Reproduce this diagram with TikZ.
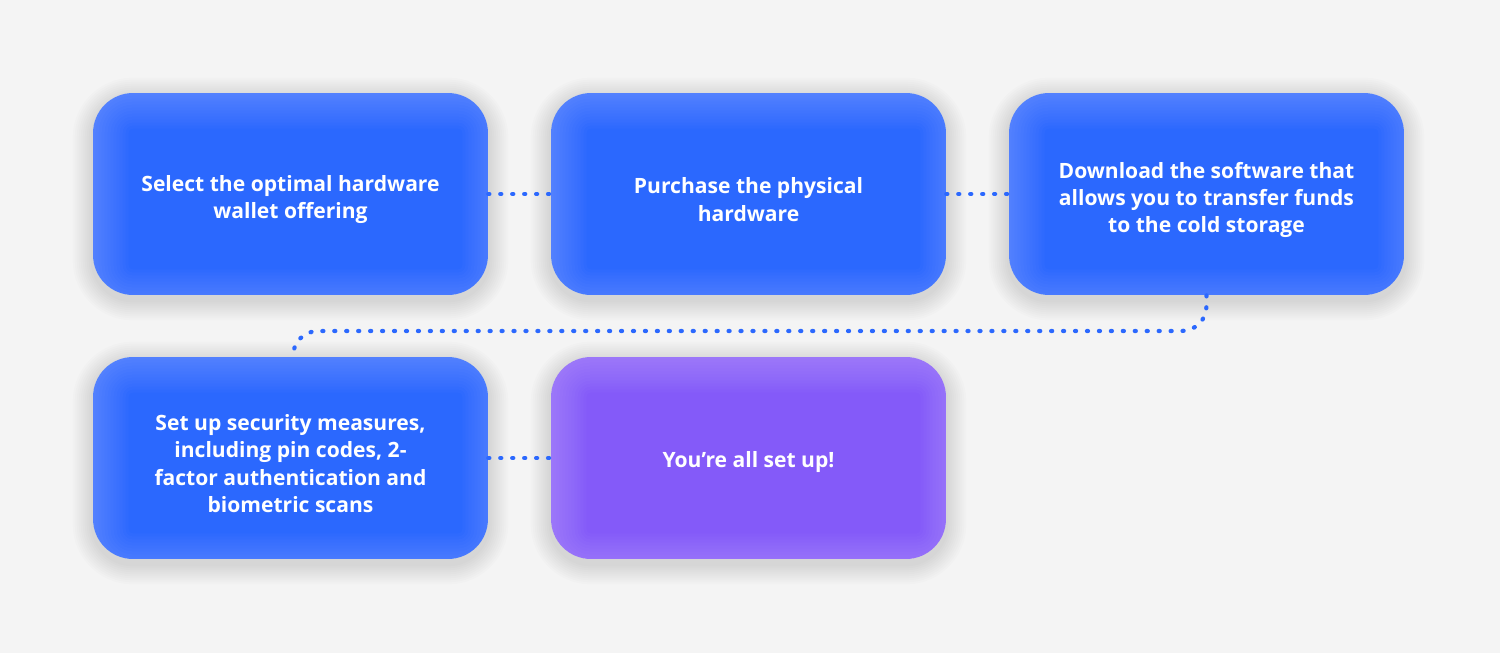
\documentclass[tikz,border=0pt]{standalone}
\usepackage{fontspec}
\setmainfont{Open Sans}
\usetikzlibrary{backgrounds}
\definecolor{bg}{HTML}{F4F4F4}
\definecolor{stepblue}{HTML}{2B68FE}
\definecolor{steppurple}{HTML}{845AF9}
\definecolor{dotblue}{HTML}{2B68FE}
\newcommand\myliftA{\rule{0pt}{15.5pt}}
\newcommand\myliftB{\rule{0pt}{14pt}}
\tikzset{
  px/.style={x=0.02cm,y=-0.02cm},
  stepbox/.style={rectangle, rounded corners=0.8cm, minimum width=7.9cm, minimum height=4.04cm,
    fill=stepblue, text=white, align=center, font=\bfseries\fontsize{12}{15.4}\selectfont},
  finalbox/.style={stepbox, fill=steppurple},
  softshadow/.style={fill=black, opacity=0.012},
  glow/.style={draw=white, opacity=0.02},
  link/.style={draw=dotblue, line width=2.4pt, line cap=round, dash pattern=on 0.6pt off 6.2pt, rounded corners=0.5cm}
}
\begin{document}
\begin{tikzpicture}[px]
\node[stepbox] (s1) at (290.5,194) {\myliftA Select the optimal hardware\\wallet offering};
\node[stepbox] (s2) at (748.5,194) {\myliftA Purchase the physical\\hardware};
\node[stepbox] (s3) at (1206.5,194) {\myliftA Download the software that\\allows you to transfer funds\\to the cold storage};
\node[stepbox] (s4) at (290.5,458) {\myliftA Set up security measures,\\including pin codes, 2-\\factor authentication and\\biometric scans};
\node[finalbox] (s5) at (748.5,458) {\myliftB You're all set up!};
\begin{scope}[on background layer]
\fill[bg] (0,0) rectangle (1500,653);
\foreach \n in {s1,s2,s3,s4,s5}{
  \foreach \k in {1,...,10}{
    \fill[softshadow, rounded corners=0.8cm+\k*0.04cm]
      ([shift={(-\k*2,-\k*2+5)}]\n.north west) rectangle ([shift={(\k*2,\k*2+5)}]\n.south east);
  }
}
\end{scope}
\foreach \n in {s1,s2,s3,s4,s5}{
  \begin{scope}
    \clip[rounded corners=0.8cm] (\n.north west) rectangle (\n.south east);
    \foreach \k in {1,...,12}{
      \draw[glow, line width=\k*0.12cm, rounded corners=0.8cm]
        (\n.north west) rectangle ([shift={(10,10)}]\n.south east);
    }
  \end{scope}
}
\useasboundingbox (0,0) rectangle (1500,653);
\coordinate (c1) at (1206.5,331);
\coordinate (c2) at (293,331);
\draw[link] (s1.east) -- (s2.west);
\draw[link] (s2.east) -- (s3.west);
\draw[link] (s3.south) -- (c1) -- (c2) -- (s4.north -| c2);
\draw[link] (s4.east) -- (s5.west);
\end{tikzpicture}
\end{document}
